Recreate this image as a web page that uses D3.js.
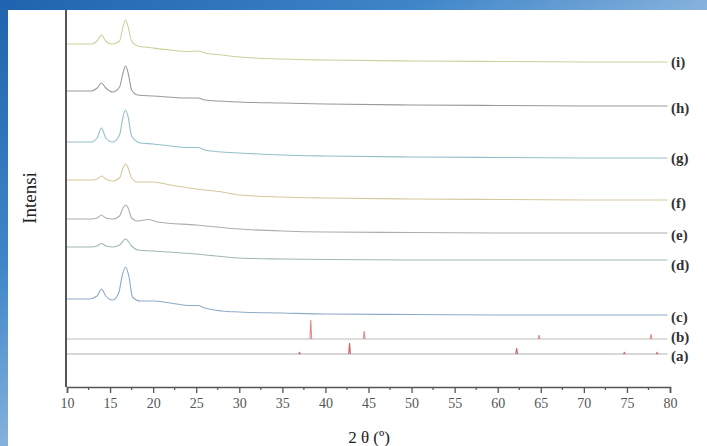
<!DOCTYPE html>
<html>
<head>
<meta charset="utf-8">
<script src="https://cdn.jsdelivr.net/npm/d3@7"></script>
<style>
  html, body { margin: 0; padding: 0; background: #fff; }
  svg { display: block; }
</style>
</head>
<body>
<div id="xrd"></div>
<script>
// 2-theta / intensity pairs (intensity in arbitrary units, offsets included)
const traceI = [[10,343],[12.8,343],[13.5,346],[14,352],[14.5,346],[15.2,343],[16.1,346],[16.5,360],[16.8,367],[17.1,360],[17.5,346],[18.2,341],[20,339],[22,337],[24,335.5],[25.2,336],[26,334],[28,332],[30,330],[35,328],[40,327],[50,326],[60,325.5],[70,325],[79.7,325]];
const traceH = [[10,296],[12.8,296],[13.5,299],[14,304],[14.5,299],[15.3,295],[16.1,300],[16.5,314],[16.8,321],[17.1,314],[17.5,297],[18.2,292],[20,291],[24,289],[25.2,289],[26,287],[30,285],[35,284],[40,283],[50,282],[60,281.5],[70,281],[79.7,281]];
const traceG = [[10,245],[12.8,245],[13.5,249],[14,259],[14.5,249],[15.3,245],[16.1,252],[16.5,270],[16.8,277],[17.1,270],[17.5,251],[18.5,244],[20,243],[22,241],[24,239.5],[25.2,239.5],[26,237],[28,235],[30,234],[35,232],[40,231],[50,230],[60,229.5],[70,229],[79.7,229]];
const traceF = [[10,207],[12.8,207],[13.5,208],[14,211],[14.5,208],[15.3,206],[16.1,209],[16.5,219],[16.8,223],[17.1,219],[17.5,209],[18.2,205],[20,205],[22,202],[25,198],[28,195],[30,192],[35,190],[40,189],[50,188],[60,187.5],[70,187],[79.7,187]];
const traceE = [[10,168],[12.8,168],[13.5,169],[14,172],[14.5,169],[15.3,168],[16.1,171],[16.5,179],[16.8,182],[17.1,179],[17.5,169],[18.2,166],[19.4,167.5],[20.5,165],[25,162],[30,158],[35,156],[40,155],[50,154.5],[60,154],[79.7,154]];
const traceD = [[10,140],[12.8,140],[13.5,141],[14,143.5],[14.5,141],[15.3,140],[16.1,142],[16.8,148],[17.5,141],[18.2,137],[20,136],[25,133],[30,129],[35,128],[40,127.5],[50,127],[79.7,127]];
const traceC = [[10,88],[12.5,88],[13.5,91],[14,98],[14.5,91],[15.3,87],[16,94],[16.4,111],[16.8,120],[17.2,110],[17.6,90],[18.5,86],[20,86],[22,84],[24,81.5],[25.2,81.5],[26,79],[28,76],[30,75],[35,74],[40,73],[50,72.5],[60,72],[79.7,72]];

// reference patterns: baseline level and [2-theta, peak height]
const baseB = 48;
const peaksB = [[38.3,19],[44.5,8],[64.8,4],[77.8,5]];
const baseA = 33;
const peaksA = [[37.0,1.5],[42.8,11],[62.2,6],[74.7,1.5],[78.5,1.5]];

const labels = ["(i)","(h)","(g)","(f)","(e)","(d)","(c)","(b)","(a)"];
const labelY = [325,279,229,184,152,122,70,50,31];

const xTicks = d3.range(10, 81, 5);
const xMinor = d3.range(12.5, 80, 5);

function drawXrd() {
  const width = 707;
  const height = 446;
  const fontFamily = "'Liberation Serif', 'DejaVu Serif', serif";

  const svg = d3.select("#xrd").append("svg")
    .attr("width", width)
    .attr("height", height);

  // blue slide frame (top and left strips)
  const defs = svg.append("defs");
  const grad = defs.append("linearGradient")
    .attr("id", "frame")
    .attr("x1", "0%").attr("y1", "0%")
    .attr("x2", "100%").attr("y2", "100%");
  grad.append("stop").attr("offset", "0%").attr("stop-color", "#1f63ae");
  grad.append("stop").attr("offset", "30%").attr("stop-color", "#3f86c8");
  grad.append("stop").attr("offset", "60%").attr("stop-color", "#a6c6e6");
  grad.append("stop").attr("offset", "100%").attr("stop-color", "#e8f0f8");
  svg.append("rect").attr("width", width).attr("height", height).attr("fill", "url(#frame)");
  svg.append("rect").attr("x", 8).attr("y", 10).attr("width", width - 8).attr("height", height - 10).attr("fill", "#fff");

  const x = d3.scaleLinear().domain([10, 80]).range([67, 670]);
  const y = d3.scaleLinear().domain([0, 377]).range([387, 10]);

  const line = d3.line()
    .x(d => x(d[0]))
    .y(d => y(d[1]))
    .curve(d3.curveMonotoneX);

  const series = [
    { data: traceI, color: "#cfcf9c" },
    { data: traceH, color: "#9a9a9a" },
    { data: traceG, color: "#94c0c8" },
    { data: traceF, color: "#d6c89c" },
    { data: traceE, color: "#adadad" },
    { data: traceD, color: "#a2b6b4" },
    { data: traceC, color: "#8eaac6" }
  ];

  svg.append("g")
    .attr("fill", "none")
    .attr("stroke-width", 1.1)
    .selectAll("path")
    .data(series)
    .join("path")
    .attr("d", d => line(d.data))
    .attr("stroke", d => d.color);

  // stick patterns (b) and (a)
  const sticks = [
    { base: baseB, peaks: peaksB, line: "#bcbcbc", color: "#e58a8a" },
    { base: baseA, peaks: peaksA, line: "#b0b0b0", color: "#c8625f" }
  ];
  const straight = d3.line().x(d => x(d[0])).y(d => y(d[1]));
  sticks.forEach(s => {
    svg.append("path")
      .attr("d", straight([[10, s.base], [79.7, s.base]]))
      .attr("fill", "none")
      .attr("stroke", s.line)
      .attr("stroke-width", 1);
    svg.append("g")
      .selectAll("path")
      .data(s.peaks)
      .join("path")
      .attr("d", p => straight([[p[0] - 0.1, s.base], [p[0], s.base + p[1]], [p[0] + 0.1, s.base]]))
      .attr("fill", "none")
      .attr("stroke", s.color)
      .attr("stroke-width", 1.1);
  });

  // series labels
  svg.append("g")
    .selectAll("text")
    .data(labels)
    .join("text")
    .attr("x", 671)
    .attr("y", (d, i) => y(labelY[i]))
    .attr("dy", "0.35em")
    .attr("font-family", fontFamily)
    .attr("font-size", 15)
    .attr("font-weight", "bold")
    .attr("fill", "#333")
    .text(d => d);

  // x axis
  const xAxis = svg.append("g")
    .attr("transform", "translate(0,387)")
    .call(d3.axisBottom(x).tickValues(xTicks).tickSize(6).tickPadding(5));
  xAxis.select(".domain").attr("stroke", "#555").attr("stroke-width", 1.6);
  xAxis.selectAll(".tick line").attr("stroke", "#555").attr("stroke-width", 1.3);
  xAxis.selectAll("text")
    .attr("font-family", fontFamily)
    .attr("font-size", 14)
    .attr("fill", "#555");
  xAxis.append("g")
    .selectAll("line")
    .data(xMinor)
    .join("line")
    .attr("x1", d => x(d)).attr("x2", d => x(d))
    .attr("y1", 0).attr("y2", 3)
    .attr("stroke", "#555")
    .attr("stroke-width", 1.2);

  // y axis (no ticks)
  svg.append("line")
    .attr("x1", 66).attr("x2", 66)
    .attr("y1", 10).attr("y2", 387)
    .attr("stroke", "#555")
    .attr("stroke-width", 2);

  svg.append("text")
    .attr("x", 369)
    .attr("y", 443)
    .attr("text-anchor", "middle")
    .attr("font-family", fontFamily)
    .attr("font-size", 17)
    .attr("fill", "#222")
    .text("2 θ (º)");

  svg.append("text")
    .attr("transform", "translate(36,198) rotate(-90)")
    .attr("text-anchor", "middle")
    .attr("font-family", fontFamily)
    .attr("font-size", 19)
    .attr("fill", "#222")
    .text("Intensi");
}

drawXrd();
</script>
</body>
</html>
